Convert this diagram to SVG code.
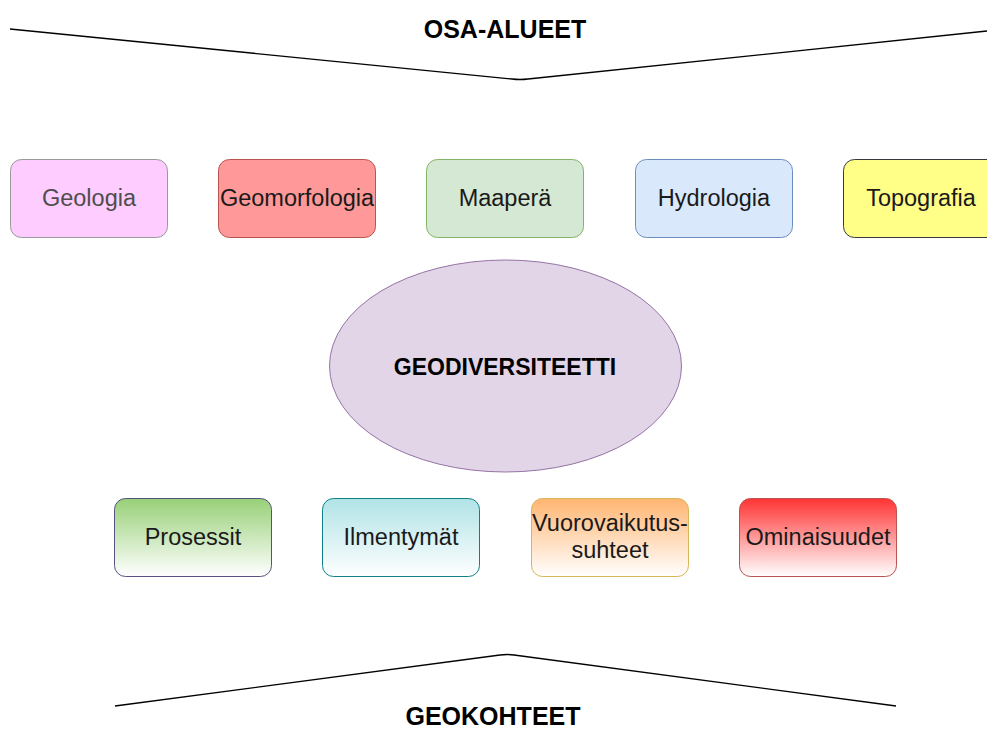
<svg xmlns="http://www.w3.org/2000/svg" width="987" height="729" viewBox="0 0 987 729">
<style>
.t{font-family:"Liberation Sans",Arial,sans-serif;font-size:23.5px;fill:#1a1a1a;text-anchor:middle;dominant-baseline:central}
.b{font-family:"Liberation Sans",Arial,sans-serif;font-size:25px;font-weight:bold;fill:#000;text-anchor:middle;dominant-baseline:central}
.ln{fill:none;stroke:#000;stroke-width:1.3;stroke-linejoin:round}
</style>
<defs>
<linearGradient id="gP" x1="0" y1="0" x2="0" y2="1"><stop offset="0" stop-color="#97D077"/><stop offset="1" stop-color="#fff"/></linearGradient>
<linearGradient id="gI" x1="0" y1="0" x2="0" y2="1"><stop offset="0" stop-color="#B0E3E6"/><stop offset="1" stop-color="#fff"/></linearGradient>
<linearGradient id="gV" x1="0" y1="0" x2="0" y2="1"><stop offset="0" stop-color="#FFB570"/><stop offset="1" stop-color="#fff"/></linearGradient>
<linearGradient id="gO" x1="0" y1="0" x2="0" y2="1"><stop offset="0" stop-color="#FF3333"/><stop offset="1" stop-color="#fff"/></linearGradient>
</defs>
<rect width="987" height="729" fill="#fff"/>
<g id="connectors">
<path class="ln" d="M10,29 L512,79 Q520,80 528,79 L987,31"/>
<path class="ln" d="M115,706 L500,655 Q507,654 514,655 L896,706"/>
</g>
<g id="osa-alueet"><text class="b" x="505" y="29">OSA-ALUEET</text></g>
<g id="geologia"><rect x="10.5" y="159.5" width="157" height="78" rx="11" fill="#FFCCFF" stroke="#999"/><text class="t" x="89" y="198" style="fill:#4d4d4d">Geologia</text></g>
<g id="geomorfologia"><rect x="218.5" y="159.5" width="157" height="78" rx="11" fill="#FF9999" stroke="#B85450"/><text class="t" x="297" y="198">Geomorfologia</text></g>
<g id="maapera"><rect x="426.5" y="159.5" width="157" height="78" rx="11" fill="#D5E8D4" stroke="#82B366"/><text class="t" x="505" y="198">Maaperä</text></g>
<g id="hydrologia"><rect x="635.5" y="159.5" width="157" height="78" rx="11" fill="#DAE8FC" stroke="#6C8EBF"/><text class="t" x="714" y="198">Hydrologia</text></g>
<g id="topografia"><rect x="843.5" y="159.5" width="157" height="78" rx="11" fill="#FFFF88" stroke="#36393D"/><text class="t" x="921" y="198">Topografia</text></g>
<g id="geodiversiteetti"><ellipse cx="505.5" cy="366" rx="176" ry="106" fill="#E1D5E7" stroke="#9673A6"/><text class="b" x="505" y="367" style="font-size:23px">GEODIVERSITEETTI</text></g>
<g id="prosessit"><rect x="114.5" y="498.5" width="157" height="78" rx="11" fill="url(#gP)" stroke="#56517E"/><text class="t" x="193" y="537">Prosessit</text></g>
<g id="ilmentymat"><rect x="322.5" y="498.5" width="157" height="78" rx="11" fill="url(#gI)" stroke="#0E8088"/><text class="t" x="401" y="537">Ilmentymät</text></g>
<g id="vuorovaikutussuhteet"><rect x="531.5" y="498.5" width="157" height="78" rx="11" fill="url(#gV)" stroke="#D6B656"/><text class="t" x="610" y="523">Vuorovaikutus-</text><text class="t" x="610" y="550">suhteet</text></g>
<g id="ominaisuudet"><rect x="739.5" y="498.5" width="157" height="78" rx="11" fill="url(#gO)" stroke="#B85450"/><text class="t" x="818" y="537">Ominaisuudet</text></g>
<g id="geokohteet"><text class="b" x="493" y="716">GEOKOHTEET</text></g>
</svg>
